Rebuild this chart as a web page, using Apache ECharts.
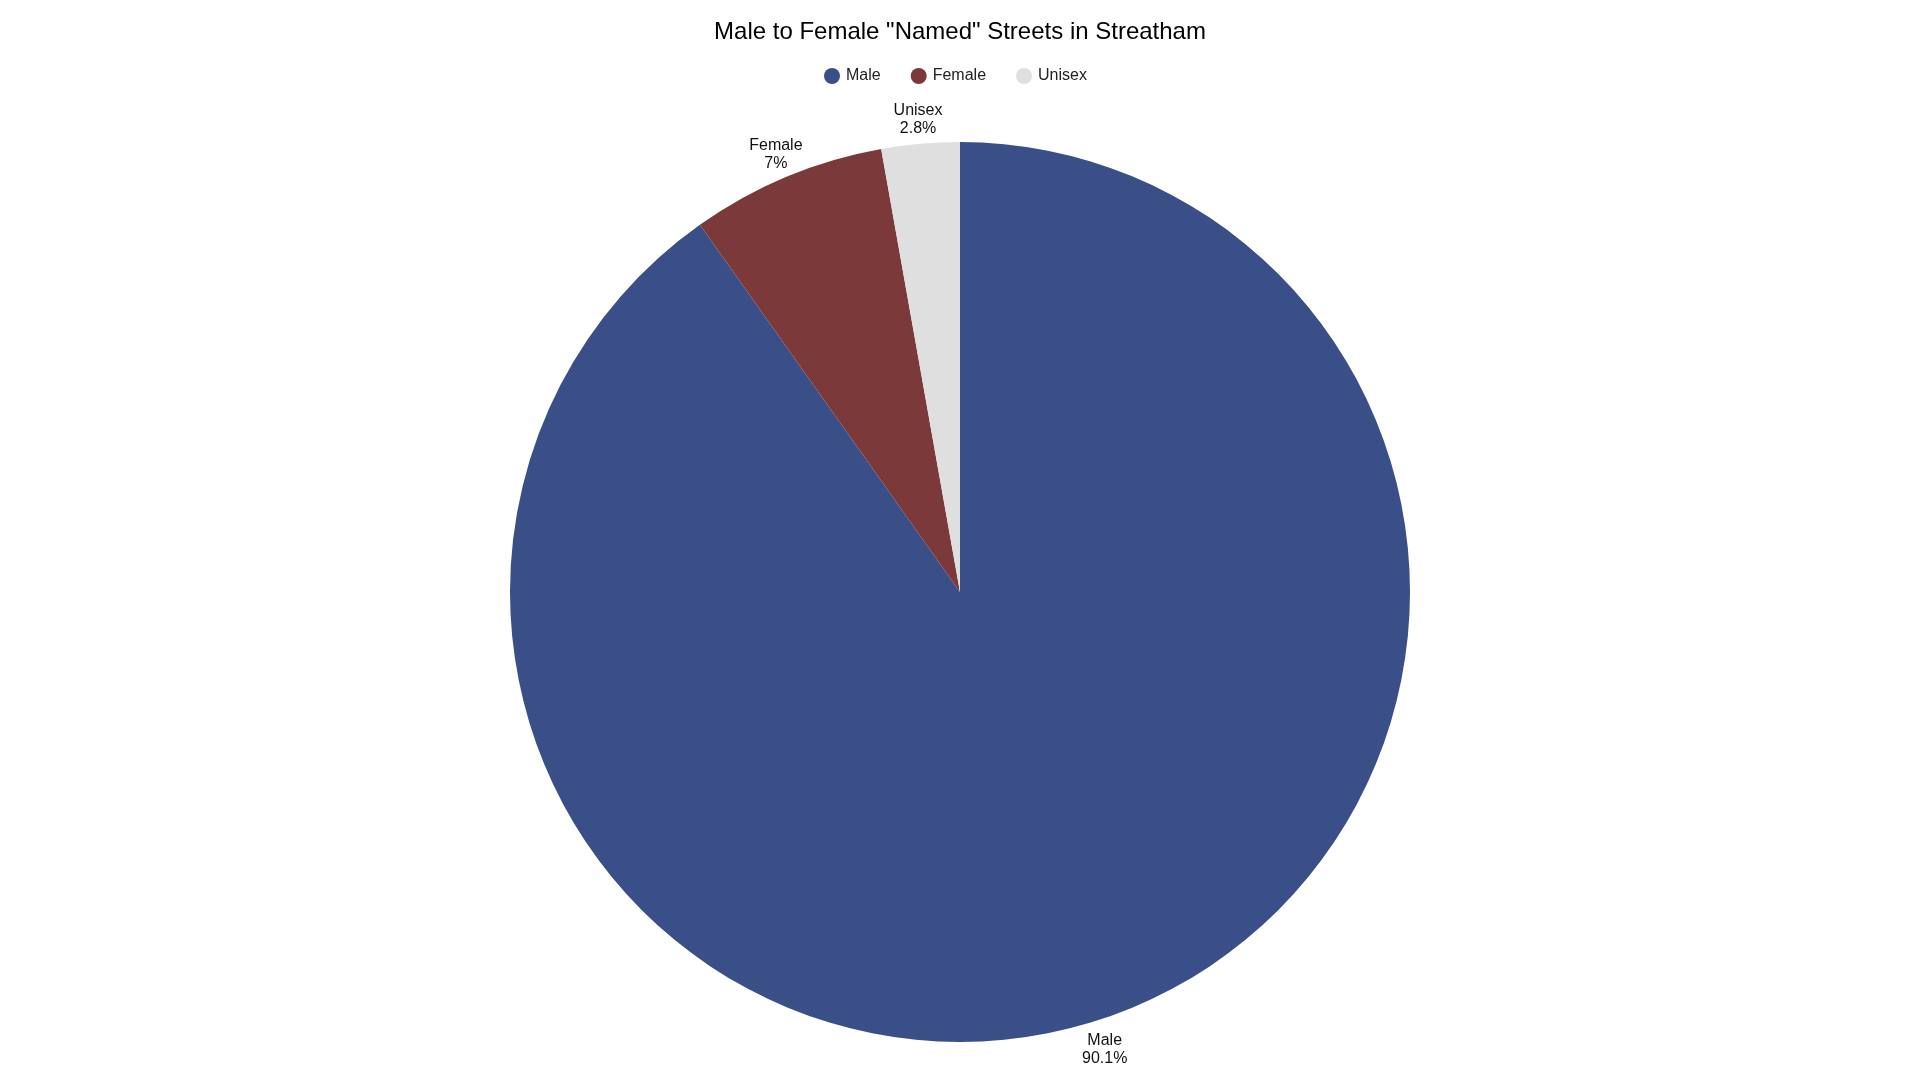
<html>
<head>
    <meta charset="utf-8">
    <title>Named Streets</title>
    <script src="https://cdn.jsdelivr.net/npm/echarts@6/dist/echarts.min.js"></script>
    <style>
        html, body { margin: 0; padding: 0; background: #fff; }
    </style>
</head>
<body>
    <div id="main" style="width:1920px;height:1080px;"></div>
    <script type="text/javascript">
    // data (percent of named streets)
    var names = ['Male', 'Female', 'Unisex'];
    var shares = [90.1, 7, 2.8];
    var colours = ['#3a4f87', '#7b393a', '#dfdfdf'];

    var pieData = [];
    for (var i = 0; i < names.length; i++) {
        pieData.push({ name: names[i], value: shares[i], itemStyle: { color: colours[i] } });
    }

    var font = 'Liberation Sans, Arial, sans-serif';
    var myChart = echarts.init(document.getElementById('main'));

    var option = {
        animation: false,
        title: {
            text: 'Male to Female "Named" Streets in Streatham',
            left: 'center',
            top: 15,
            textStyle: { fontFamily: font, fontSize: 24, fontWeight: 'normal', color: '#000' }
        },
        legend: {
            data: names,
            top: 63,
            left: 819,
            icon: 'circle',
            itemWidth: 18,
            itemHeight: 16,
            itemGap: 30,
            textStyle: { fontFamily: font, fontSize: 16, color: '#222' }
        },
        series: [{
            // the visible pie
            name: 'Streets',
            type: 'pie',
            center: [960, 592],
            radius: 450,
            startAngle: 90,
            clockwise: true,
            label: { show: false },
            labelLine: { show: false },
            data: pieData
        }, {
            // transparent ring just outside, only used to place centred labels
            name: 'labels',
            type: 'pie',
            silent: true,
            center: [960, 592],
            radius: [450, 498],
            startAngle: 90,
            clockwise: true,
            itemStyle: { color: 'rgba(0,0,0,0)' },
            label: {
                show: true,
                position: 'inside',
                offset: [0, 3],
                fontFamily: font,
                fontSize: 16,
                lineHeight: 18,
                color: '#111',
                formatter: function (p) {
                    return p.name + '\n' + p.value + '%';
                }
            },
            labelLine: { show: false },
            data: names.map(function (n, i) { return { name: n, value: shares[i] }; })
        }]
    };
    myChart.setOption(option);
    </script>
</body>
</html>
